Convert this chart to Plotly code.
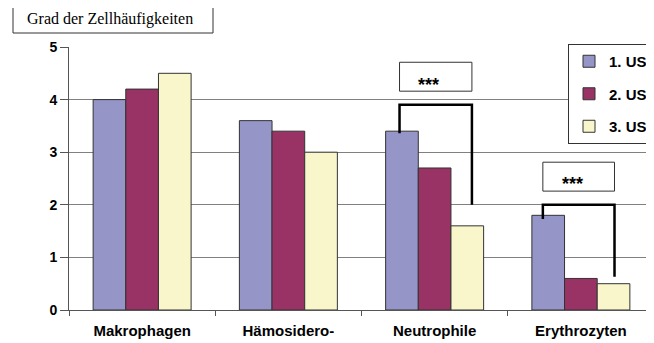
import plotly.graph_objects as go

categories = ["Makrophagen", "Hämosidero-", "Neutrophile", "Erythrozyten"]
series_names = ["1. US", "2. US", "3. US"]
us1 = [4.0, 3.6, 3.4, 1.8]
us2 = [4.2, 3.4, 2.7, 0.6]
us3 = [4.5, 3.0, 1.6, 0.5]
colors = ["#9595C8", "#993366", "#F8F6CA"]
y_ticks = [0, 1, 2, 3, 4, 5]

# page body has an 8px default margin; compensate so the plot lands where the reference has it
OFF = 8
W, H = 654 - OFF, 343 - OFF
PL, PR, PT, PB = 69, 654, 47, 310  # plot area in page pixels
pw, ph = PR - PL, PB - PT

def px_x(x):
    return (x - PL) / pw

def px_y(y):
    return (PB - y) / ph

fig = go.Figure()
for i, (name, vals) in enumerate(zip(series_names, [us1, us2, us3])):
    fig.add_trace(go.Bar(
        x=categories, y=vals, name=name, legendgroup=name,
        marker=dict(color=colors[i], line=dict(color="#333333", width=1)),
    ))

fig.update_layout(
    width=W, height=H,
    margin=dict(l=PL - OFF, r=654 - PR, t=PT - OFF, b=343 - PB, pad=0, autoexpand=False),
    paper_bgcolor="white", plot_bgcolor="white",
    barmode="group", bargap=0.33, bargroupgap=0,
    showlegend=True,
    legend=dict(
        x=px_x(653), y=px_y(44), xanchor="right", yanchor="top",
        bordercolor="#333333", borderwidth=1, bgcolor="white",
        font=dict(family="Liberation Sans, Arial, sans-serif", size=15, color="black", weight="bold"),
        tracegroupgap=10, itemwidth=30,
    ),
    xaxis=dict(
        type="category", showgrid=False, automargin=False,
        showline=True, linecolor="#555555", linewidth=1,
        ticks="outside", tickson="boundaries", ticklen=5, tickcolor="#555555",
        ticklabelstandoff=7,
        tickfont=dict(family="Liberation Sans, Arial, sans-serif", size=15, color="black", weight="bold"),
        range=[-0.5, 3.5],
    ),
    yaxis=dict(
        range=[0, 5], tickvals=y_ticks, automargin=False,
        showgrid=True, gridcolor="#808080", gridwidth=1,
        showline=True, linecolor="#555555", linewidth=1,
        ticks="outside", ticklen=8, tickcolor="#555555",
        tickfont=dict(family="Liberation Sans, Arial, sans-serif", size=14, color="black", weight="bold"),
        zeroline=False,
    ),
)

# Title box
fig.add_shape(type="rect", xref="paper", yref="paper",
              x0=px_x(13), x1=px_x(213), y0=px_y(33), y1=px_y(5),
              line=dict(color="#333333", width=1), fillcolor="white")
fig.add_annotation(xref="paper", yref="paper", x=px_x(25), y=px_y(19),
                   xanchor="left", yanchor="middle", showarrow=False,
                   text="Grad der Zellhäufigkeiten",
                   font=dict(family="Liberation Serif, Times New Roman, serif", size=16, color="black"))

# Significance brackets and boxes
brackets = [
    dict(cx=2, xl=-0.24, xr=0.255, top=3.9, left_end=3.36, right_end=2.0,
         box=(4.16, 4.71), star_y=4.28, star_dx=-0.04),
    dict(cx=3, xl=-0.26, xr=0.23, top=2.0, left_end=1.73, right_end=0.63,
         box=(2.26, 2.81), star_y=2.39, star_dx=-0.06),
]
for b in brackets:
    x0 = b["cx"] + b["xl"]
    x1 = b["cx"] + b["xr"]
    fig.add_shape(type="path", xref="x", yref="y",
                  path=f"M {x0},{b['left_end']} L {x0},{b['top']} L {x1},{b['top']} L {x1},{b['right_end']}",
                  line=dict(color="black", width=2.5))
    fig.add_shape(type="rect", xref="x", yref="y",
                  x0=x0, x1=x1, y0=b["box"][0], y1=b["box"][1],
                  line=dict(color="#333333", width=1), fillcolor="white")
    fig.add_annotation(xref="x", yref="y", x=b["cx"] + b["star_dx"], y=b["star_y"],
                       showarrow=False, text="***",
                       font=dict(family="Liberation Sans, Arial, sans-serif", size=18, color="black", weight="bold"))

fig.write_html("out.html")
